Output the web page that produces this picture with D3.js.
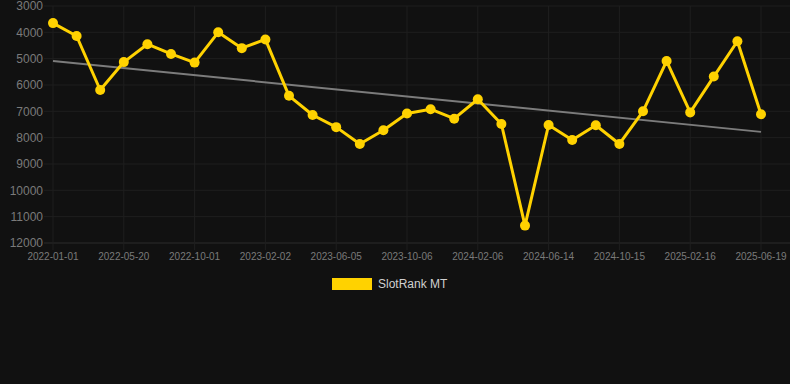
<!DOCTYPE html>
<html>
<head>
<meta charset="utf-8">
<script src="https://cdn.jsdelivr.net/npm/d3@7"></script>
<style>
  html, body { margin: 0; padding: 0; background: #111111; }
  svg { display: block; font-family: "Liberation Sans", Arial, sans-serif; }
</style>
</head>
<body>
<svg id="chart" width="790" height="384"></svg>
<script>
const dates = [
  '2022-01-01', '2022-02-16', '2022-04-03', '2022-05-20', '2022-07-05', '2022-08-16',
  '2022-10-01', '2022-11-11', '2022-12-22', '2023-02-02', '2023-03-15', '2023-04-25',
  '2023-06-05', '2023-07-16', '2023-08-26', '2023-10-06', '2023-11-16', '2023-12-27',
  '2024-02-06', '2024-03-18', '2024-05-02', '2024-06-14', '2024-07-25', '2024-09-04',
  '2024-10-15', '2024-11-25', '2025-01-05', '2025-02-16', '2025-03-29', '2025-05-09',
  '2025-06-19'
];
const rank = [
  3650, 4140, 6190, 5130, 4450, 4820, 5150, 4000, 4600, 4270, 6410,
  7140, 7600, 8240, 7720, 7080, 6920, 7280, 6540, 7480, 11340,
  7520, 8090, 7530, 8240, 7000, 5090, 7040, 5680, 4340, 7110
];
const trend = [5090, 7780];
const yTicks = [3000, 4000, 5000, 6000, 7000, 8000, 9000, 10000, 11000, 12000];
const seriesName = 'SlotRank MT';

const svg = d3.select('#chart');
const margin = { top: 6, right: 29, bottom: 141, left: 53 };
const width = 790, height = 384;
const innerW = width - margin.left - margin.right;
const innerH = height - margin.top - margin.bottom;

const x = d3.scalePoint().domain(dates).range([0, innerW]);
const y = d3.scaleLinear().domain([3000, 12000]).range([0, innerH]);

const g = svg.append('g').attr('transform', `translate(${margin.left},${margin.top})`);

// horizontal grid
g.append('g').selectAll('line').data(yTicks).join('line')
  .attr('x1', -9).attr('x2', innerW + margin.right)
  .attr('y1', d => y(d)).attr('y2', d => y(d))
  .attr('stroke', d => d === 12000 ? '#2c2c2c' : '#1f1f1f').attr('stroke-width', 1);

// vertical grid, every third date
const shown = dates.filter((d, i) => i % 3 === 0);
g.append('g').selectAll('line').data(shown).join('line')
  .attr('x1', d => x(d)).attr('x2', d => x(d))
  .attr('y1', 0).attr('y2', innerH + 7)
  .attr('stroke', '#1f1f1f').attr('stroke-width', 1);

// y labels
g.append('g').selectAll('text').data(yTicks).join('text')
  .attr('x', -10).attr('y', d => y(d)).attr('dy', '0.35em')
  .attr('text-anchor', 'end').attr('fill', '#7a7a7a').attr('font-size', 12)
  .text(d => d);

// x labels
g.append('g').selectAll('text').data(shown).join('text')
  .attr('x', d => x(d)).attr('y', innerH + 17)
  .attr('text-anchor', 'middle').attr('fill', '#7a7a7a').attr('font-size', 10)
  .text(d => d);

// trend line
g.append('line')
  .attr('x1', x(dates[0])).attr('x2', x(dates[dates.length - 1]))
  .attr('y1', y(trend[0])).attr('y2', y(trend[1]))
  .attr('stroke', '#7c7c7c').attr('stroke-width', 2);

// series line
const line = d3.line().x((d, i) => x(dates[i])).y(d => y(d));
g.append('path').datum(rank)
  .attr('d', line).attr('fill', 'none')
  .attr('stroke', '#ffd200').attr('stroke-width', 3).attr('stroke-linejoin', 'round');

g.append('g').selectAll('circle').data(rank).join('circle')
  .attr('cx', (d, i) => x(dates[i])).attr('cy', d => y(d))
  .attr('r', 5).attr('fill', '#ffd200');

// legend
const legend = svg.append('g').attr('transform', 'translate(332,278)');
legend.append('rect').attr('width', 40).attr('height', 12).attr('fill', '#ffd200');
legend.append('text').attr('x', 46).attr('y', 6).attr('dy', '0.35em')
  .attr('fill', '#d0d0d0').attr('font-size', 12).text(seriesName);
</script>
</body>
</html>
